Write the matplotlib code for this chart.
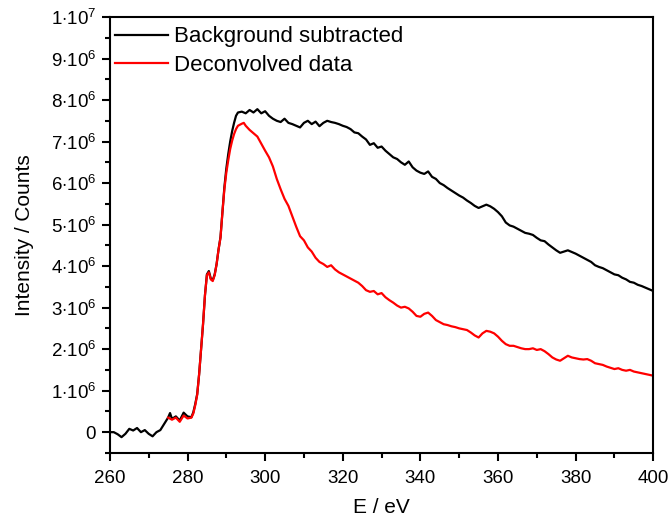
"""EELS-style spectrum: background subtracted vs. deconvolved data."""

import matplotlib

matplotlib.use("Agg")
import matplotlib.pyplot as plt
from matplotlib.ticker import FuncFormatter, MultipleLocator

# values (energy in eV, intensity in 1e6 counts)
e_black = [260, 261, 262, 263, 264, 265, 266, 267, 268, 269, 270, 271, 272, 273, 274,
           275, 275.5, 276, 277, 278, 279, 280, 281, 281.5, 282, 282.5, 283, 283.5,
           284, 284.5, 285, 285.5, 286, 286.5, 287, 287.5, 288, 288.5, 289, 289.5,
           290, 290.5, 291, 291.5, 292, 292.5, 293, 294, 295, 296, 297, 298, 299,
           300, 301, 302, 303, 304, 305, 306, 307, 308, 309, 310, 311, 312, 313, 314,
           315, 316, 317, 318, 319, 320, 321, 322, 323, 324, 325, 326, 327, 328, 329,
           330, 331, 332, 333, 334, 335, 336, 337, 338, 339, 340, 341, 342, 343, 344,
           345, 346, 347, 348, 349, 350, 351, 352, 353, 354, 355, 356, 357, 358, 359,
           360, 361, 362, 363, 364, 365, 366, 367, 368, 369, 370, 371, 372, 373, 374,
           375, 376, 377, 378, 379, 380, 381, 382, 383, 384, 385, 386, 387, 388, 389,
           390, 391, 392, 393, 394, 395, 396, 397, 398, 399, 400]
i_black = [0.0, 0.0, -0.05, -0.12, -0.04, 0.08, 0.04, 0.1, 0.0, 0.05, -0.04, -0.1, 0.0,
           0.05, 0.2, 0.35, 0.46, 0.32, 0.38, 0.28, 0.47, 0.38, 0.36, 0.48, 0.68, 0.92,
           1.4, 2.0, 2.6, 3.3, 3.8, 3.88, 3.7, 3.66, 3.8, 4.05, 4.4, 4.7, 5.3, 5.9,
           6.35, 6.7, 7.0, 7.25, 7.45, 7.62, 7.7, 7.72, 7.68, 7.76, 7.7, 7.78, 7.68,
           7.73, 7.62, 7.55, 7.5, 7.47, 7.55, 7.45, 7.42, 7.38, 7.34, 7.45, 7.5, 7.42,
           7.48, 7.37, 7.45, 7.5, 7.47, 7.45, 7.42, 7.38, 7.35, 7.3, 7.22, 7.2, 7.12,
           7.05, 6.92, 6.96, 6.85, 6.88, 6.78, 6.7, 6.62, 6.58, 6.5, 6.44, 6.52, 6.38,
           6.3, 6.25, 6.22, 6.28, 6.15, 6.1, 6.0, 5.95, 5.88, 5.82, 5.76, 5.7, 5.65,
           5.58, 5.52, 5.45, 5.4, 5.44, 5.48, 5.44, 5.38, 5.3, 5.2, 5.05, 4.98, 4.95,
           4.9, 4.85, 4.8, 4.78, 4.75, 4.68, 4.62, 4.6, 4.52, 4.45, 4.38, 4.32, 4.35,
           4.38, 4.34, 4.3, 4.25, 4.2, 4.15, 4.1, 4.02, 3.98, 3.95, 3.9, 3.85, 3.8,
           3.78, 3.72, 3.68, 3.62, 3.6, 3.55, 3.52, 3.48, 3.44, 3.4]

e_red = [275, 276, 277, 278, 279, 280, 281, 281.5, 282, 282.5, 283, 283.5, 284, 284.5,
         285, 285.5, 286, 286.5, 287, 287.5, 288, 288.5, 289, 289.5, 290, 290.5, 291,
         291.5, 292, 292.5, 293, 294, 294.5, 295, 296, 297, 298, 299, 300, 301, 302,
         303, 304, 305, 306, 307, 308, 309, 310, 311, 312, 313, 314, 315, 316, 317,
         318, 319, 320, 321, 322, 323, 324, 325, 326, 327, 328, 329, 330, 331, 332,
         333, 334, 335, 336, 337, 338, 339, 340, 341, 342, 343, 344, 345, 346, 347,
         348, 349, 350, 351, 352, 353, 354, 355, 356, 357, 358, 359, 360, 361, 362,
         363, 364, 365, 366, 367, 368, 369, 370, 371, 372, 373, 374, 375, 376, 377,
         378, 379, 380, 381, 382, 383, 384, 385, 386, 387, 388, 389, 390, 391, 392,
         393, 394, 395, 396, 397, 398, 399, 400]
i_red = [0.35, 0.3, 0.35, 0.25, 0.4, 0.33, 0.35, 0.45, 0.65, 0.9, 1.4, 2.0, 2.6, 3.3,
         3.78, 3.85, 3.68, 3.64, 3.78, 4.05, 4.4, 4.68, 5.3, 5.85, 6.25, 6.55, 6.82,
         7.02, 7.18, 7.3, 7.38, 7.43, 7.45, 7.38, 7.28, 7.2, 7.12, 6.95, 6.78, 6.62,
         6.4, 6.1, 5.85, 5.62, 5.45, 5.2, 4.95, 4.72, 4.62, 4.45, 4.35, 4.2, 4.1, 4.05,
         3.98, 4.02, 3.92, 3.85, 3.8, 3.75, 3.7, 3.65, 3.6, 3.52, 3.42, 3.38, 3.4,
         3.32, 3.35, 3.25, 3.18, 3.12, 3.05, 3.0, 3.02, 2.98, 2.9, 2.8, 2.78, 2.85,
         2.88, 2.8, 2.7, 2.65, 2.6, 2.58, 2.55, 2.53, 2.5, 2.48, 2.46, 2.4, 2.33, 2.28,
         2.38, 2.44, 2.42, 2.38, 2.3, 2.2, 2.12, 2.08, 2.08, 2.05, 2.02, 2.0, 2.0,
         2.02, 1.98, 2.0, 1.95, 1.88, 1.8, 1.75, 1.72, 1.78, 1.84, 1.8, 1.78, 1.76,
         1.75, 1.76, 1.72, 1.66, 1.64, 1.62, 1.58, 1.55, 1.52, 1.54, 1.5, 1.48, 1.5,
         1.46, 1.44, 1.42, 1.4, 1.38, 1.36]

labels = ["Background subtracted", "Deconvolved data"]


def _sci_label(val, _pos):
    if abs(val) < 1:
        return "0"
    exp = 0
    mant = val
    while abs(mant) >= 10:
        mant /= 10
        exp += 1
    return rf"${mant:.0f}{{\cdot}}10^{{{exp}}}$"


def main() -> None:
    plt.rcParams["font.family"] = ["Liberation Sans", "DejaVu Sans"]
    plt.rcParams["mathtext.fontset"] = "custom"
    plt.rcParams["mathtext.rm"] = "Liberation Sans"
    plt.rcParams["mathtext.it"] = "Liberation Sans:italic"
    plt.rcParams["mathtext.bf"] = "Liberation Sans:bold"

    fig = plt.figure(figsize=(6.7, 5.23), dpi=100)
    ax = fig.add_axes([0.164, 0.134, 0.811, 0.8335])

    ax.plot(e_black, [v * 1e6 for v in i_black], color="black", lw=1.6, label=labels[0])
    ax.plot(e_red, [v * 1e6 for v in i_red], color="#ff0000", lw=1.6, label=labels[1])

    ax.set_xlim(260, 400)
    ax.set_ylim(-0.5e6, 1e7)
    ax.xaxis.set_major_locator(MultipleLocator(20))
    ax.xaxis.set_minor_locator(MultipleLocator(10))
    ax.yaxis.set_major_locator(MultipleLocator(1e6))
    ax.yaxis.set_minor_locator(MultipleLocator(0.5e6))
    ax.yaxis.set_major_formatter(FuncFormatter(_sci_label))

    for side in ax.spines.values():
        side.set_linewidth(1.5)
    ax.tick_params(which="major", direction="out", length=6, width=1.5, labelsize=13.5)
    ax.tick_params(which="minor", direction="out", length=3.5, width=1.5)
    ax.tick_params(axis="x", pad=6)
    ax.tick_params(axis="y", pad=4)

    ax.set_xlabel("E / eV", fontsize=15, labelpad=8)
    ax.set_ylabel("Intensity / Counts", fontsize=15, labelpad=12)

    ax.legend(loc="upper left", bbox_to_anchor=(-0.02, 1.014), frameon=False,
              fontsize=16, handlelength=2.4, handletextpad=0.27, labelspacing=0.34,
              borderaxespad=0.3)

    fig.savefig("out.png", dpi=100)
    plt.close(fig)


if __name__ == "__main__":
    main()
